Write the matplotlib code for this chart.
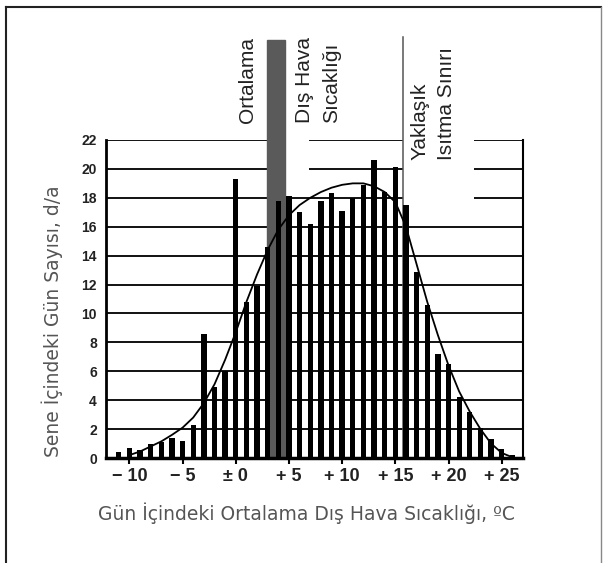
import matplotlib
matplotlib.use("Agg")
import matplotlib.pyplot as plt
from matplotlib.patches import Rectangle
from matplotlib.lines import Line2D

# daily mean outdoor temperature (deg C) and number of days per year
temps = list(range(-11, 27))
days = [0.4, 0.7, 0.55, 1.0, 1.1, 1.35, 1.15, 2.3, 8.6, 4.9, 6.0, 19.3,
        10.8, 11.9, 14.6, 17.8, 18.1, 17.0, 16.2, 17.8, 18.3, 17.1, 18.0,
        18.9, 20.6, 18.4, 20.1, 17.5, 12.9, 10.6, 7.2, 6.5, 4.2, 3.2, 2.1,
        1.3, 0.6, 0.2]

# smoothed distribution curve
curve_x = [-10, -9, -8, -7, -6, -5, -4, -3, -2, -1, 0, 1, 2, 3, 4, 5, 6, 7,
           8, 9, 10, 11, 12, 13, 14, 15, 16, 17, 18, 19, 20, 21, 22, 23, 24,
           25, 26]
curve_y = [0.2, 0.45, 0.8, 1.15, 1.6, 2.1, 2.8, 3.8, 5.1, 6.8, 8.7, 10.8,
           12.7, 14.4, 15.8, 16.8, 17.5, 18.0, 18.4, 18.7, 18.9, 19.0, 19.0,
           18.8, 18.4, 17.7, 16.0, 13.4, 10.8, 8.5, 6.4, 4.6, 3.2, 2.0, 1.0,
           0.35, 0.05]

yticks = list(range(0, 23, 2))
xticks = [-10, -5, 0, 5, 10, 15, 20, 25]
xtick_labels = ["\u2212 10", "\u2212 5", "\u00b1 0", "+ 5", "+ 10", "+ 15", "+ 20", "+ 25"]

mean_band = (2.9, 4.6)     # "Ortalama Dış Hava Sıcaklığı" band
heat_limit = 15.7          # "Yaklaşık Isıtma Sınırı"

W, H = 607, 563
fig = plt.figure(figsize=(W / 100, H / 100), dpi=100)
ax = fig.add_axes([106 / W, (H - 458) / H, 417 / W, 318 / H])
ax.set_xlim(-12.2, 27.0)
ax.set_ylim(0, 22)

# horizontal grid, broken where the labels sit
for v in yticks[1:]:
    if v >= 18:
        mid_start = 4.6 if v == 18 else 6.9
        segs = [(-12.2, mean_band[0]), (mid_start, heat_limit), (22.35, 27.0)]
    else:
        segs = [(-12.2, 27.0)]
    for a, b in segs:
        ax.hlines(v, a, b, color="#111111", lw=1.4, zorder=1)

ax.add_patch(Rectangle((mean_band[0], 0), mean_band[1] - mean_band[0], 28.9,
                       color="#5a5a5a", clip_on=False, zorder=2))
ax.plot([heat_limit, heat_limit], [0, 29.1], color="#555555", lw=1.1,
        clip_on=False, zorder=2)

ax.bar(temps, days, width=0.5, color="black", zorder=3)
ax.plot(curve_x, curve_y, color="black", lw=1.3, zorder=4)

ax.spines["top"].set_visible(False)
ax.spines["left"].set_linewidth(2.0)
ax.spines["bottom"].set_linewidth(2.5)
ax.spines["right"].set_linewidth(1.5)

ax.set_yticks(yticks)
ax.set_yticklabels([str(v) for v in yticks], fontsize=10, fontweight="bold",
                   family="Liberation Sans", color="#222222")
ax.tick_params(axis="y", length=0, pad=6.5)
ax.set_xticks(xticks)
ax.set_xticklabels(xtick_labels, fontsize=13, fontweight="bold",
                   family="Liberation Sans", color="#222222")
ax.tick_params(axis="x", length=4, width=1.5, pad=3)

tk = dict(rotation=90, ha="center", va="bottom", fontsize=15,
          family="Liberation Sans", color="#222222", clip_on=False)
ax.text(1.13, 23.2, "Ortalama", **tk)
ax.text(6.48, 23.2, "Dış Hava", **tk)
ax.text(9.0, 23.2, "Sıcaklığı", **tk)
ax.text(17.3, 20.6, "Yaklaşık", **tk)
ax.text(19.8, 20.6, "Isıtma Sınırı", **tk)

fig.text(306 / W, 1 - 513 / H, "Gün İçindeki Ortalama Dış Hava Sıcaklığı, ºC",
         ha="center", va="center", fontsize=13.5, color="#555555")
fig.text(52 / W, 1 - 321 / H, "Sene İçindeki Gün Sayısı, d/a", rotation=90,
         ha="center", va="center", fontsize=13.5, color="#555555")

# outer frame of the picture
fig.add_artist(Line2D([6 / W, 6 / W], [0, 1 - 7 / H], color="#222222", lw=1.5))
fig.add_artist(Line2D([6 / W, 601 / W], [1 - 7 / H, 1 - 7 / H], color="#222222", lw=1.5))
fig.add_artist(Line2D([601 / W, 601 / W], [0, 1 - 7 / H], color="#888888", lw=1.0))

fig.savefig("out.png", dpi=100, facecolor="white")
